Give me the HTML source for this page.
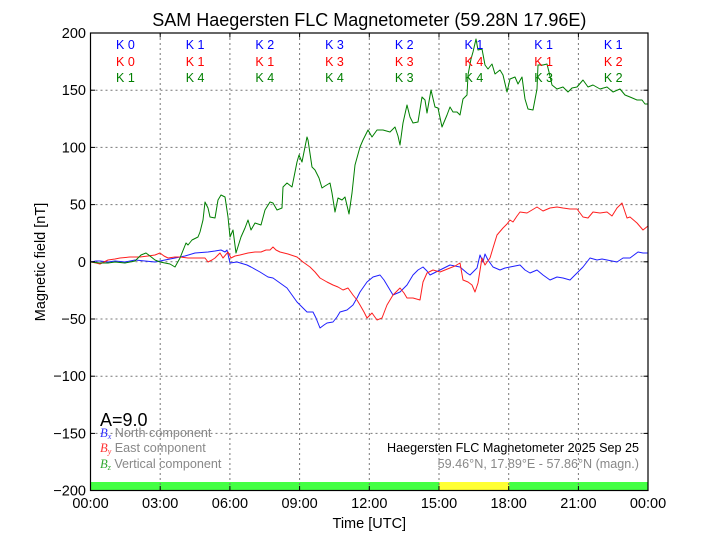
<!DOCTYPE html>
<html><head><meta charset="utf-8"><style>
html,body{margin:0;padding:0;background:#fff;}
svg{display:block;font-family:"Liberation Sans",sans-serif;}
</style></head><body>
<svg width="720" height="540" viewBox="0 0 720 540" xmlns="http://www.w3.org/2000/svg">
<rect x="0" y="0" width="720" height="540" fill="#fff"/>
<!-- activity bar -->
<rect x="90.5" y="482" width="557.5" height="8.5" fill="#44ff44"/>
<rect x="439.3" y="482" width="70" height="8.5" fill="#ffff33"/>
<!-- grid -->
<g stroke="#777" stroke-width="1" stroke-dasharray="2,3" fill="none">
<line x1="160.2" y1="33" x2="160.2" y2="490.5"/>
<line x1="229.9" y1="33" x2="229.9" y2="490.5"/>
<line x1="299.6" y1="33" x2="299.6" y2="490.5"/>
<line x1="369.3" y1="33" x2="369.3" y2="490.5"/>
<line x1="439.0" y1="33" x2="439.0" y2="490.5"/>
<line x1="508.7" y1="33" x2="508.7" y2="490.5"/>
<line x1="578.4" y1="33" x2="578.4" y2="490.5"/>
<line x1="90.5" y1="90.2" x2="648" y2="90.2"/>
<line x1="90.5" y1="147.4" x2="648" y2="147.4"/>
<line x1="90.5" y1="204.6" x2="648" y2="204.6"/>
<line x1="90.5" y1="261.8" x2="648" y2="261.8"/>
<line x1="90.5" y1="319.0" x2="648" y2="319.0"/>
<line x1="90.5" y1="376.2" x2="648" y2="376.2"/>
<line x1="90.5" y1="433.4" x2="648" y2="433.4"/>
</g>
<!-- series -->
<g fill="none" stroke-width="1" stroke-linejoin="round">
<polyline stroke="#1f1fff" points="91,262 96,261 100,261 108,262 115,261 125,262 135,260 145,261 155,262 165,260 175,258 185,256 195,253 208,252 215,251 221,250 225,252 227,250 230,263 237,262 247,265 251,267 260,272 268,277 273,278 280,283 287,288 292,295 297,302 302,307 307,312 313,312 316,318 320,328 324,325 327,323 333,322 337,317 340,312 347,310 353,305 357,298 360,292 367,282 373,277 380,275 384,280 387,285 393,295 400,292 407,285 413,275 418,270 423,267 427,271 430,275 440,270 450,265 455,266 460,267 467,273 470,275 477,268 480,255 483,262 485,254 488,260 493,267 500,270 505,268 510,267 515,266 520,265 525,270 530,273 537,270 543,275 550,280 557,277 563,278 570,280 577,273 583,267 590,258 597,260 602,259 607,260 612,261 617,262 623,258 630,258 634,255 638,252 643,253 648,253"/>
<polyline stroke="#ff1f1f" points="91,262 96,263 100,264 104,262 108,260 115,259 120,258 130,257 140,257 148,256 155,255 160,253 164,256 168,258 175,257 180,257 188,258 198,258 205,258 208,262 212,260 215,258 220,253 223,258 228,252 231,258 235,256 240,255 248,253 255,252 261,252 266,250 270,250 273,247 276,250 280,252 288,254 297,257 303,262 310,267 315,272 320,278 327,282 333,285 338,287 343,290 348,288 353,295 357,300 360,305 364,312 367,318 372,313 377,320 382,318 387,305 393,295 400,288 404,293 407,298 413,298 420,300 423,282 427,273 433,270 440,272 445,270 450,268 455,266 460,263 463,280 468,282 472,285 475,292 478,283 482,258 485,265 490,258 493,248 497,235 503,228 507,224 510,220 513,222 517,216 520,212 527,213 532,210 537,207 543,211 550,208 557,207 563,208 570,209 577,209 580,213 583,217 588,218 593,212 600,213 607,212 612,216 617,208 622,203 627,218 630,217 637,223 643,230 648,226"/>
<polyline stroke="#007f00" points="91,262 100,263 108,263 115,262 125,263 135,261 141,255 146,253 150,256 155,260 160,262 165,263 170,264 175,267 180,258 186,243 188,245 192,240 198,237 200,232 203,220 205,202 208,208 210,217 215,218 218,200 221,195 225,197 228,217 230,237 233,230 236,253 241,237 245,228 248,220 251,230 255,223 261,225 265,210 270,202 273,203 277,210 282,208 283,187 287,183 292,187 297,162 299,155 302,162 307,137 308,140 312,167 315,170 319,178 322,188 325,186 330,183 332,193 335,212 338,198 342,200 345,197 349,214 352,193 355,165 360,147 363,140 368,130 372,137 377,130 383,130 390,132 395,127 398,136 400,145 403,123 407,105 410,117 413,123 418,122 422,97 425,100 427,113 431,90 435,107 438,108 442,127 447,115 450,107 453,112 457,112 460,115 463,99 467,95 468,75 471,59 473,52 476,39 478,50 482,49 485,65 488,69 492,64 495,74 500,70 503,75 507,92 510,79 515,77 518,84 522,77 525,99 528,109 533,110 537,89 538,65 543,65 547,64 549,72 552,85 557,89 563,87 568,92 572,88 577,87 583,80 588,87 593,85 600,89 607,87 613,92 620,89 625,95 630,97 637,100 642,100 645,104 648,104"/>
</g>
<!-- axes frame -->
<rect x="90.5" y="33" width="557.5" height="457.5" fill="none" stroke="#000" stroke-width="1.2"/>
<!-- ticks -->
<g stroke="#000" stroke-width="1">
<line x1="160.2" y1="490.5" x2="160.2" y2="486"/><line x1="229.9" y1="490.5" x2="229.9" y2="486"/><line x1="299.6" y1="490.5" x2="299.6" y2="486"/><line x1="369.3" y1="490.5" x2="369.3" y2="486"/><line x1="439.0" y1="490.5" x2="439.0" y2="486"/><line x1="508.7" y1="490.5" x2="508.7" y2="486"/><line x1="578.4" y1="490.5" x2="578.4" y2="486"/>
<line x1="160.2" y1="33" x2="160.2" y2="37.5"/><line x1="229.9" y1="33" x2="229.9" y2="37.5"/><line x1="299.6" y1="33" x2="299.6" y2="37.5"/><line x1="369.3" y1="33" x2="369.3" y2="37.5"/><line x1="439.0" y1="33" x2="439.0" y2="37.5"/><line x1="508.7" y1="33" x2="508.7" y2="37.5"/><line x1="578.4" y1="33" x2="578.4" y2="37.5"/>
<line x1="90.5" y1="90.2" x2="95" y2="90.2"/><line x1="90.5" y1="147.4" x2="95" y2="147.4"/><line x1="90.5" y1="204.6" x2="95" y2="204.6"/><line x1="90.5" y1="261.8" x2="95" y2="261.8"/><line x1="90.5" y1="319.0" x2="95" y2="319.0"/><line x1="90.5" y1="376.2" x2="95" y2="376.2"/><line x1="90.5" y1="433.4" x2="95" y2="433.4"/>
<line x1="648" y1="90.2" x2="643.5" y2="90.2"/><line x1="648" y1="147.4" x2="643.5" y2="147.4"/><line x1="648" y1="204.6" x2="643.5" y2="204.6"/><line x1="648" y1="261.8" x2="643.5" y2="261.8"/><line x1="648" y1="319.0" x2="643.5" y2="319.0"/><line x1="648" y1="376.2" x2="643.5" y2="376.2"/><line x1="648" y1="433.4" x2="643.5" y2="433.4"/>
</g>
<!-- y tick labels -->
<g font-size="14.5" text-anchor="end" fill="#000">
<text x="86" y="38">200</text>
<text x="86" y="95.2">150</text>
<text x="86" y="152.4">100</text>
<text x="86" y="209.6">50</text>
<text x="86" y="266.8">0</text>
<text x="86" y="324">−50</text>
<text x="86" y="381.2">−100</text>
<text x="86" y="438.4">−150</text>
<text x="86" y="495.5">−200</text>
</g>
<!-- x tick labels -->
<g font-size="14.5" text-anchor="middle" fill="#000">
<text x="90.5" y="508">00:00</text>
<text x="160.2" y="508">03:00</text>
<text x="229.9" y="508">06:00</text>
<text x="299.6" y="508">09:00</text>
<text x="369.3" y="508">12:00</text>
<text x="439.0" y="508">15:00</text>
<text x="508.7" y="508">18:00</text>
<text x="578.4" y="508">21:00</text>
<text x="648" y="508">00:00</text>
</g>
<text x="369.3" y="528" font-size="14.5" text-anchor="middle">Time [UTC]</text>
<text transform="translate(45,262) rotate(-90)" font-size="14.5" text-anchor="middle">Magnetic field [nT]</text>
<text x="369.3" y="26" font-size="18" text-anchor="middle">SAM Haegersten FLC Magnetometer (59.28N 17.96E)</text>
<!-- K indices -->
<g font-size="12.5" text-anchor="middle">
<g fill="#0000ff">
<text x="125.4" y="49">K 0</text><text x="195.1" y="49">K 1</text><text x="264.8" y="49">K 2</text><text x="334.5" y="49">K 3</text><text x="404.2" y="49">K 2</text><text x="473.9" y="49">K 1</text><text x="543.6" y="49">K 1</text><text x="613.2" y="49">K 1</text>
</g>
<g fill="#ff0000">
<text x="125.4" y="66">K 0</text><text x="195.1" y="66">K 1</text><text x="264.8" y="66">K 1</text><text x="334.5" y="66">K 3</text><text x="404.2" y="66">K 3</text><text x="473.9" y="66">K 4</text><text x="543.6" y="66">K 1</text><text x="613.2" y="66">K 2</text>
</g>
<g fill="#007f00">
<text x="125.4" y="82">K 1</text><text x="195.1" y="82">K 4</text><text x="264.8" y="82">K 4</text><text x="334.5" y="82">K 4</text><text x="404.2" y="82">K 3</text><text x="473.9" y="82">K 4</text><text x="543.6" y="82">K 3</text><text x="613.2" y="82">K 2</text>
</g>
</g>
<!-- A index and legend -->
<text x="100" y="426" font-size="18" fill="#000">A=9.0</text>
<g font-size="12.6" fill="#888">
<text x="100" y="437"><tspan fill="#3333ff" font-family="Liberation Serif,serif" font-style="italic">B</tspan><tspan fill="#3333ff" font-family="Liberation Serif,serif" font-style="italic" font-size="8" dy="2">x</tspan><tspan dy="-2"> North component</tspan></text>
<text x="100" y="452"><tspan fill="#ff3333" font-family="Liberation Serif,serif" font-style="italic">B</tspan><tspan fill="#ff3333" font-family="Liberation Serif,serif" font-style="italic" font-size="8" dy="2">y</tspan><tspan dy="-2"> East component</tspan></text>
<text x="100" y="468"><tspan fill="#33aa33" font-family="Liberation Serif,serif" font-style="italic">B</tspan><tspan fill="#33aa33" font-family="Liberation Serif,serif" font-style="italic" font-size="8" dy="2">z</tspan><tspan dy="-2"> Vertical component</tspan></text>
</g>
<text x="639" y="452" font-size="12.6" text-anchor="end" fill="#000">Haegersten FLC Magnetometer 2025 Sep 25</text>
<text x="639" y="468" font-size="12.6" text-anchor="end" fill="#888">59.46°N, 17.89°E - 57.86°N (magn.)</text>
</svg>
</body></html>
